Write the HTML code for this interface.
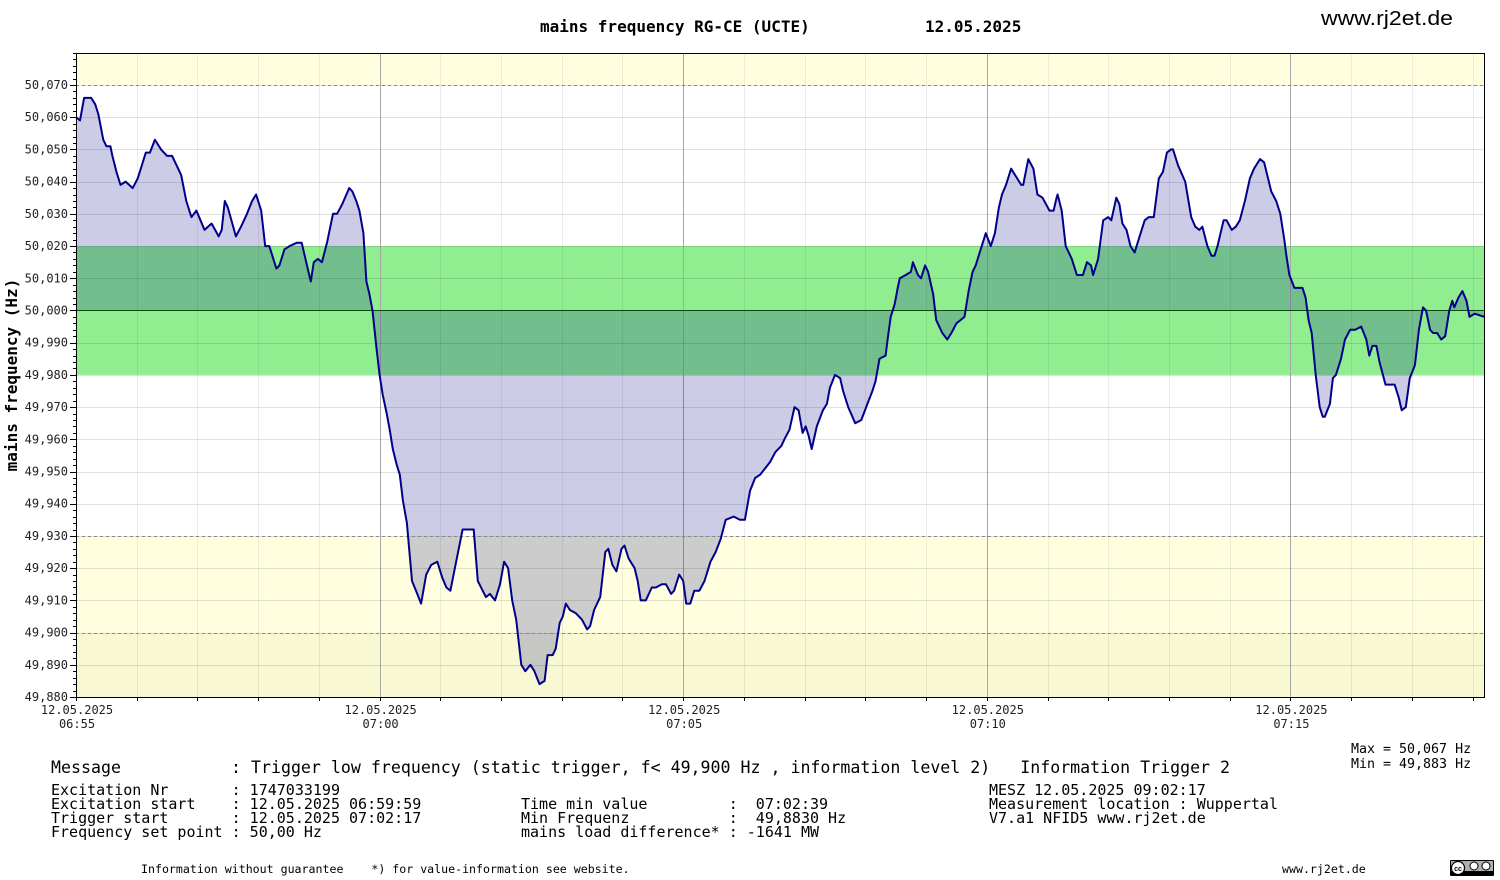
<!DOCTYPE html>
<html><head><meta charset="utf-8"><style>
html,body{margin:0;padding:0;background:#fff;}
svg{display:block;}
.mono{font-family:"DejaVu Sans Mono","Liberation Mono",monospace;}
</style></head><body>
<svg id="chart" width="1500" height="880" viewBox="0 0 1500 880" xmlns="http://www.w3.org/2000/svg">
<text x="540" y="32" class="mono" font-size="16" font-weight="bold">mains frequency RG-CE (UCTE)</text>
<text x="925" y="32" class="mono" font-size="16" font-weight="bold">12.05.2025</text>
<text x="1321" y="25" font-family="Liberation Sans, sans-serif" font-size="20" textLength="132" lengthAdjust="spacingAndGlyphs">www.rj2et.de</text>
<text transform="translate(17,375) rotate(-90)" text-anchor="middle" class="mono" font-size="16" font-weight="bold">mains frequency (Hz)</text>
<g id="plot"></g>
<g class="mono" font-size="16.6">
<text x="51" y="773" xml:space="preserve">Message</text>
<text x="231" y="773" xml:space="preserve">: Trigger low frequency (static trigger, f&lt; 49,900 Hz , information level 2)   Information Trigger 2</text>
</g>
<g class="mono" font-size="15">
<text x="51" y="795" xml:space="preserve">Excitation Nr       : 1747033199</text>
<text x="51" y="809" xml:space="preserve">Excitation start    : 12.05.2025 06:59:59</text>
<text x="51" y="823" xml:space="preserve">Trigger start       : 12.05.2025 07:02:17</text>
<text x="51" y="837" xml:space="preserve">Frequency set point : 50,00 Hz</text>
<text x="521" y="809" xml:space="preserve">Time min value         :  07:02:39</text>
<text x="521" y="823" xml:space="preserve">Min Frequenz           :  49,8830 Hz</text>
<text x="521" y="837" xml:space="preserve">mains load difference* : -1641 MW</text>
<text x="989" y="795" xml:space="preserve">MESZ 12.05.2025 09:02:17</text>
<text x="989" y="809" xml:space="preserve">Measurement location : Wuppertal</text>
<text x="989" y="823" xml:space="preserve">V7.a1 NFID5 www.rj2et.de</text>
</g>
<g class="mono" font-size="13.3">
<text x="1351" y="753" xml:space="preserve">Max = 50,067 Hz</text>
<text x="1351" y="768" xml:space="preserve">Min = 49,883 Hz</text>
</g>
<g class="mono" font-size="11.6">
<text x="141" y="873" xml:space="preserve">Information without guarantee    *) for value-information see website.</text>
<text x="1282" y="873">www.rj2et.de</text>
</g>
<g>
<rect x="1450" y="860" width="44" height="16" fill="#000" rx="1"/>
<rect x="1451" y="861" width="42" height="10" fill="#aab2ab"/>
<circle cx="1458" cy="868" r="6.5" fill="#fff" stroke="#000" stroke-width="1.2"/>
<text x="1458" y="871" font-size="7" text-anchor="middle" font-family="Liberation Sans, sans-serif" font-weight="bold">cc</text>
<circle cx="1474" cy="866" r="4" fill="#fff" stroke="#000"/>
<circle cx="1486" cy="866" r="4" fill="#fff" stroke="#000"/>
</g>
</svg>
<script>
const setPointHz = 50.000;
const timeSeconds = [0,4,8,11,15,19,22,27,30,34,36,40,44,49,56,61,65,69,73,78,80,84,90,95,101,104,109,114,119,123,127,134,141,144,147,150,158,163,169,174,178,183,187,191,198,201,206,211,218,223,229,232,235,239,243,248,254,258,263,270,273,277,280,284,287,290,293,297,300,303,307,310,313,317,320,323,327,332,336,341,346,351,357,362,366,370,375,382,389,393,397,405,409,414,419,423,427,431,435,440,444,449,453,458,463,466,471,474,478,481,484,488,494,500,505,508,512,518,523,526,530,534,539,542,546,552,555,558,563,569,573,579,583,588,591,596,600,603,607,611,616,621,627,632,637,642,650,656,661,666,671,676,681,686,691,697,700,705,710,714,718,721,724,727,732,738,742,745,750,755,758,763,770,776,782,787,790,794,800,802,805,809,812,814,820,825,827,832,835,839,842,847,850,856,861,865,870,874,878,882,886,889,894,899,904,908,912,915,919,924,930,934,936,941,946,950,955,962,966,969,970,974,978,984,989,995,999,1003,1005,1010,1015,1020,1023,1028,1031,1034,1038,1042,1046,1051,1056,1060,1065,1070,1074,1078,1082,1084,1089,1096,1102,1106,1110,1113,1118,1122,1125,1128,1134,1137,1142,1146,1150,1155,1160,1164,1170,1174,1181,1186,1190,1194,1196,1199,1204,1209,1212,1215,1218,1221,1225,1229,1232,1234,1239,1242,1245,1250,1254,1259,1264,1270,1275,1278,1281,1285,1288,1294,1298,1303,1307,1310,1314,1318,1323,1327,1331,1334,1338,1341,1345,1349,1353,1357,1360,1362,1366,1370,1374,1377,1382,1392];
const deviationMilliHz = [60,59,66,66,66,64,61,53,51,51,48,43,39,40,38,41,45,49,49,53,52,50,48,48,44,42,34,29,31,28,25,27,23,25,34,32,23,26,30,34,36,31,20,20,13,14,19,20,21,21,13,9,15,16,15,21,30,30,33,38,37,34,31,24,9,5,0,-12,-20,-26,-32,-37,-43,-48,-51,-59,-66,-84,-87,-91,-82,-79,-78,-83,-86,-87,-79,-68,-68,-68,-84,-89,-88,-90,-85,-78,-80,-90,-96,-110,-112,-110,-112,-116,-115,-107,-107,-105,-97,-95,-91,-93,-94,-96,-99,-98,-93,-89,-75,-74,-79,-81,-74,-73,-77,-80,-84,-90,-90,-86,-86,-85,-85,-88,-87,-82,-84,-91,-91,-87,-87,-84,-78,-75,-71,-65,-64,-65,-65,-56,-52,-51,-49,-47,-44,-42,-40,-37,-30,-31,-38,-36,-39,-43,-36,-31,-29,-24,-20,-21,-25,-30,-35,-34,-29,-25,-22,-15,-14,-9,-2,2,7,10,11,12,15,11,10,14,12,5,-3,-7,-9,-7,-4,-3,-2,6,12,14,19,24,20,24,32,36,39,44,41,39,39,47,44,36,35,31,31,35,36,31,20,16,11,11,15,14,11,16,28,29,28,35,33,27,25,20,18,23,28,29,29,41,43,49,50,50,45,40,29,26,25,26,20,17,17,20,28,28,25,26,28,34,41,44,47,46,37,34,30,22,17,11,7,7,7,4,-3,-7,-20,-30,-33,-33,-29,-21,-20,-15,-9,-6,-6,-5,-9,-14,-11,-11,-16,-23,-23,-23,-27,-31,-30,-21,-17,-6,1,0,-6,-7,-7,-9,-8,0,3,1,4,6,3,-2,-1,-2];
const yTickValues = [50.070,50.060,50.050,50.040,50.030,50.020,50.010,50.000,49.990,49.980,49.970,49.960,49.950,49.940,49.930,49.920,49.910,49.900,49.890,49.880];
const xTickSeconds = [0,300,600,900,1200];
const xTickLabels = ["06:55","07:00","07:05","07:10","07:15"];
const xTickDate = "12.05.2025";
const bandLimits = {warnHigh:50.070, greenHigh:50.020, greenLow:49.980, warnLow:49.930, alarmLow:49.900};

const NS = "http://www.w3.org/2000/svg";
const L = 76, R = 1485, T = 53, B = 698;
const pxPer10 = (697 - 85) / 19;
function yScale(v){ return 85 + (50.070 - v) / 0.010 * pxPer10; }
function xScale(s){ return L + s / 300 * 303.6; }
const plot = document.getElementById('plot');
function mk(tag, attrs, parent){
  const e = document.createElementNS(NS, tag);
  for (const k in attrs) e.setAttribute(k, attrs[k]);
  (parent || plot).appendChild(e);
  return e;
}
let e;
e = mk('rect',{x:L,y:T,width:R-L,height:yScale(bandLimits.warnHigh)-T,fill:'#ffffe0'});


e = mk('rect',{x:L,y:yScale(bandLimits.greenHigh),width:R-L,height:yScale(bandLimits.greenLow)-yScale(bandLimits.greenHigh),fill:'#90ee90'});


e = mk('rect',{x:L,y:yScale(bandLimits.warnLow),width:R-L,height:yScale(bandLimits.alarmLow)-yScale(bandLimits.warnLow),fill:'#ffffe0'});


e = mk('rect',{x:L,y:yScale(bandLimits.alarmLow),width:R-L,height:B-yScale(bandLimits.alarmLow),fill:'#f8f8d2'});


for (let s = 0; s <= 1392; s += 60){
  const x = Math.round(xScale(s)) + 0.5, major = s % 300 === 0;
  e = mk('line',{x1:x,x2:x,y1:T,y2:B,stroke:major?'#a8a8a8':'rgba(0,0,0,0.07)','stroke-width':1});
  
  
}
yTickValues.forEach(v=>{
  const y = Math.round(yScale(v)) + 0.5;
  e = mk('line',{x1:L,x2:R,y1:y,y2:y,stroke:'rgba(0,0,0,0.12)','stroke-width':1});
  
  
});
const pts = timeSeconds.map((t,i)=>[xScale(t), yScale(setPointHz + deviationMilliHz[i]/1000)]);
const y0 = yScale(setPointHz);
let d = 'M' + pts[0][0] + ',' + y0 + ' ' + pts.map(p=>'L'+p[0].toFixed(1)+','+p[1].toFixed(1)).join(' ') + ' L' + pts[pts.length-1][0] + ',' + y0 + ' Z';
e = mk('path',{d:d,fill:'rgba(0,0,128,0.2)',stroke:'none'});


[bandLimits.warnHigh, bandLimits.warnLow, bandLimits.alarmLow].forEach(v=>{
  const y = Math.round(yScale(v)) + 0.5;
  e = mk('line',{x1:L,x2:R,y1:y,y2:y,stroke:'#888','stroke-width':1,'stroke-dasharray':'3,3'});
  
  
});
e = mk('line',{x1:L,x2:R,y1:y0,y2:y0,stroke:'#0a4a0a','stroke-width':1});


e = mk('polyline',{points:pts.map(p=>p[0].toFixed(1)+','+p[1].toFixed(1)).join(' '),fill:'none',stroke:'#00008b','stroke-width':2,'stroke-linejoin':'round'});


e = mk('rect',{x:L+0.5,y:T+0.5,width:R-L-1,height:B-T-1,fill:'none',stroke:'#000','stroke-width':1});


for (let v = 49.880; v <= 50.0805; v += 0.002){
  const y = Math.round(yScale(v)) + 0.5;
  e = mk('line',{x1:L-3,x2:L,y1:y,y2:y,stroke:'#000','stroke-width':1});
  
  
}
yTickValues.forEach(v=>{
  const y = yScale(v);
  e = mk('line',{x1:L-6,x2:L,y1:Math.round(y)+0.5,y2:Math.round(y)+0.5,stroke:'#000','stroke-width':1});
  
  
  e = mk('text',{x:68,y:y+4,'text-anchor':'end','font-size':12,'font-family':'DejaVu Sans Mono, Liberation Mono, monospace',fill:'#222'});
  e.textContent = v.toFixed(3).replace('.',',');
  
  
});
for (let s = 0; s <= 1392; s += 60){
  const x = Math.round(xScale(s)) + 0.5;
  e = mk('line',{x1:x,x2:x,y1:B,y2:B+3,stroke:'#000','stroke-width':1});
  
  
}
xTickSeconds.forEach((s,i)=>{
  const x = xScale(s) + 1;
  e = mk('text',{x:x,y:714,'text-anchor':'middle','font-size':12,'font-family':'DejaVu Sans Mono, Liberation Mono, monospace',fill:'#222'});
  e.textContent = xTickDate;
  
  
  e = mk('text',{x:x,y:728,'text-anchor':'middle','font-size':12,'font-family':'DejaVu Sans Mono, Liberation Mono, monospace',fill:'#222'});
  e.textContent = xTickLabels[i];
  
  
});
</script>
</body></html>
